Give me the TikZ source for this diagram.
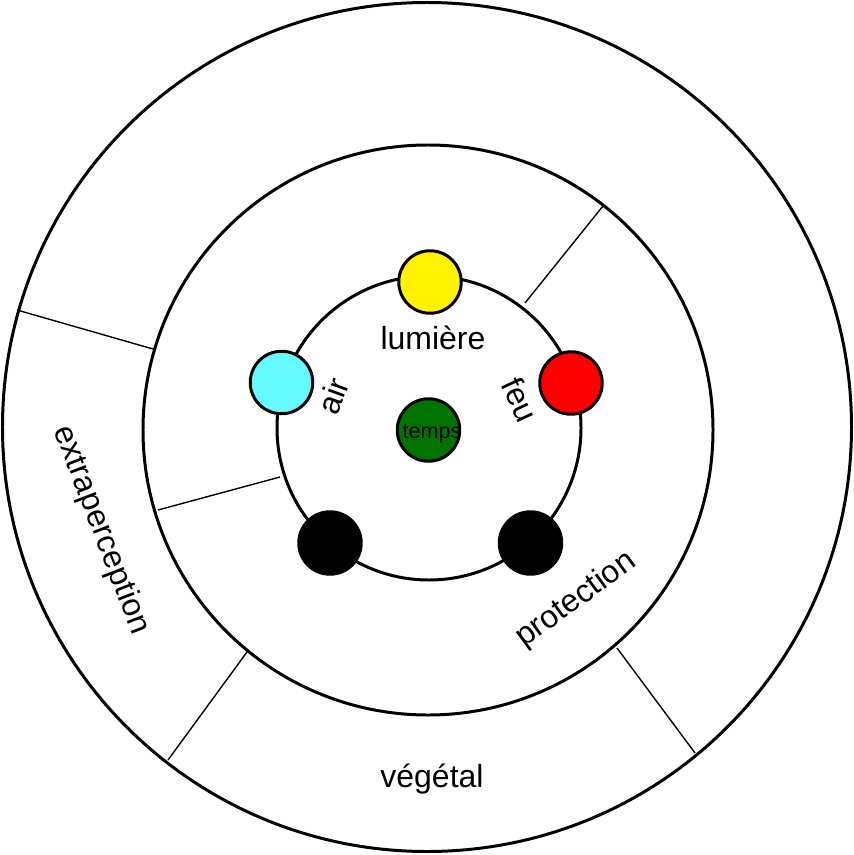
\documentclass[tikz,border=0pt]{standalone}
\usepackage{fontspec}
\setmainfont{Liberation Sans}
\definecolor{ciel}{RGB}{100,250,255}
\definecolor{vert}{RGB}{0,115,0}
\tikzset{
  anneau/.style={line width=1.7pt},
  trait/.style={line width=0.8pt},
  boule/.style={circle,draw,line width=1.7pt,minimum size=1.25cm,inner sep=0pt},
  mot/.style={font=\fontsize{18.2}{22}\selectfont,inner sep=0pt}
}
\begin{document}
\begin{tikzpicture}[x=0.02cm,y=-0.02cm]
  \useasboundingbox (0,0) rectangle (854,855);

  % les trois cercles
  \draw[anneau] (427,427) circle[radius=424.5];
  \draw[anneau] (428,430) circle[radius=285];
  \draw[anneau] (429,428) circle[radius=152];

  % separations
  \draw[trait] (603,206) -- (525,303);
  \draw[trait] (17,310) -- (153,349);
  \draw[trait] (158,510) -- (280,477);
  \draw[trait] (168,760) -- (247,652);
  \draw[trait] (617,648) -- (695,753);

  % elements
  \node[boule,fill=yellow] (lumiere) at (430,282) {};
  \node[boule,fill=ciel] (air) at (281.5,382.5) {};
  \node[boule,fill=red] (feu) at (571,383) {};
  \node[boule,fill=vert] (temps) at (428.5,430) {};
  \node[boule,fill=black] (noirg) at (330,543) {};
  \node[boule,fill=black] (noird) at (530.5,543) {};

  \node[mot,anchor=base] at (433,349) {lumière};
  \node[mot,rotate=70] at (333,396) {air};
  \node[mot,rotate=-65] at (520,400) {feu};
  \node[inner sep=0pt,anchor=base,font=\fontsize{12.3}{14}\selectfont] at (432,438) {temps};
  \node[mot,rotate=-69] at (101,530) {extraperception};
  \node[mot,rotate=36] at (576,600) {protection};
  \node[mot,anchor=base] at (432,787) {végétal};
\end{tikzpicture}
\end{document}
